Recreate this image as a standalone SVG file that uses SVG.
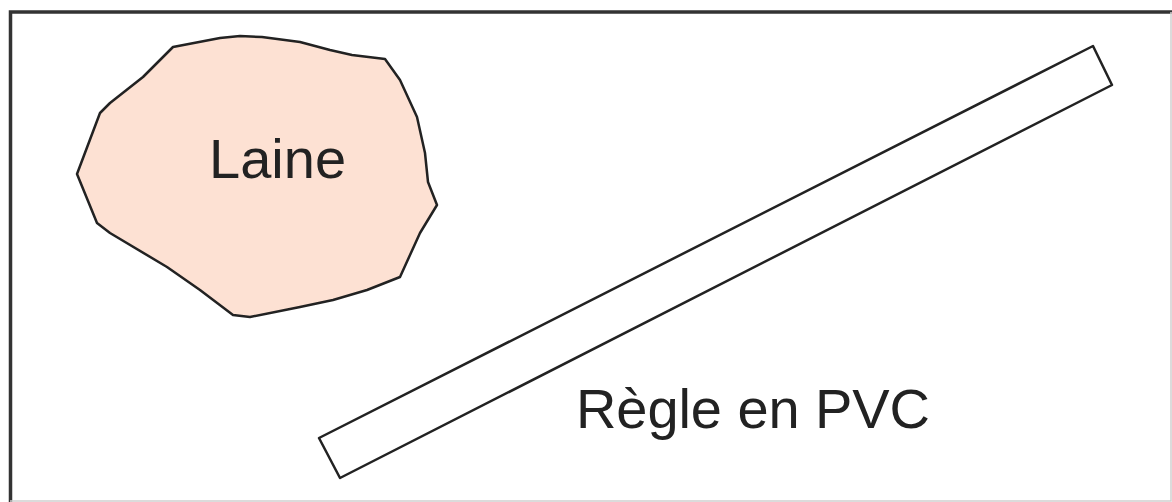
<svg xmlns="http://www.w3.org/2000/svg" width="1172" height="502" viewBox="0 0 1172 502">
<style>
.lbl{font-family:"Liberation Sans",Arial,sans-serif;font-size:56px;fill:#222}
.edge{stroke:#222;stroke-width:2.5;stroke-linejoin:round}
</style>
<rect width="1172" height="502" fill="#fff"/>
<g id="frame">
<path d="M10.5 502 V12 H1172" fill="none" stroke="#333" stroke-width="3.5"/>
<path d="M1171 12 V501 H10" fill="none" stroke="#d0d0d0" stroke-width="1.5"/>
</g>
<g id="laine">
<polygon class="edge" fill="#fde1d3" points="173,47 220,38 240,36 262,37 300,42 330,50 352,55 385,59 400,80 417,117 425,153 428,182 437,205 420,233 400,277 367,290 333,300 300,307 250,317 233,315 200,290 167,267 110,233 97,223 77,174 100,113 110,103 143,77"/>
<text class="lbl" x="209" y="178">Laine</text>
</g>
<g id="regle">
<polygon class="edge" fill="#fff" points="319,438 1093,46 1112,85 340,478"/>
<text class="lbl" x="576" y="428" textLength="354">Règle en PVC</text>
</g>
</svg>
